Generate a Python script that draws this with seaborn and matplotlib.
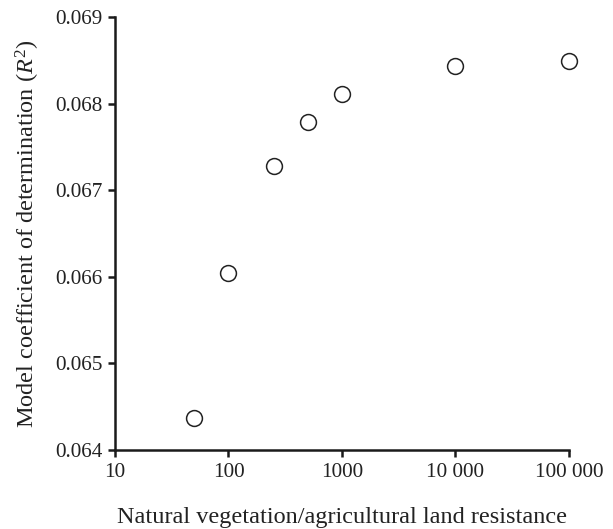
import matplotlib
matplotlib.use("Agg")
import matplotlib.pyplot as plt
import matplotlib.ticker as mticker
import seaborn as sns
import pandas as pd

resistance = [50, 100, 250, 500, 1000, 10000, 100000]
r2 = [0.06437, 0.06604, 0.06728, 0.06779, 0.06811, 0.06843, 0.06849]
x_ticks = [10, 100, 1000, 10000, 100000]
x_tick_labels = ["10", "100", "1000", "10 000", "100 000"]
y_ticks = [0.064, 0.065, 0.066, 0.067, 0.068, 0.069]

sns.set_style("ticks")
plt.rcParams["font.family"] = ["Liberation Serif", "DejaVu Serif"]
plt.rcParams["mathtext.fontset"] = "custom"
plt.rcParams["mathtext.rm"] = "Liberation Serif"
plt.rcParams["mathtext.it"] = "Liberation Serif:italic"

df = pd.DataFrame({"resistance": resistance, "r2": r2})

fig = plt.figure(figsize=(6.13, 5.29), dpi=100)
ax = fig.add_axes([0.1876, 0.1493, 0.7406, 0.8186])
sns.scatterplot(data=df, x="resistance", y="r2", ax=ax, marker="o",
                s=130, facecolor="white", edgecolor="#222222", linewidth=1.1,
                zorder=3, clip_on=False)
ax.set_xscale("log")
ax.set_xlim(10, 100000)
ax.set_ylim(0.064, 0.069)
ax.xaxis.set_major_locator(mticker.FixedLocator(x_ticks))
ax.xaxis.set_major_formatter(mticker.FixedFormatter(x_tick_labels))
ax.xaxis.set_minor_locator(mticker.NullLocator())
ax.set_yticks(y_ticks)
ax.set_yticklabels([f"{v:.3f}" for v in y_ticks])

for s in ["top", "right"]:
    ax.spines[s].set_visible(False)
for s in ["left", "bottom"]:
    ax.spines[s].set_linewidth(1.8)
    ax.spines[s].set_color("#1a1a1a")
ax.tick_params(axis="both", direction="out", length=5, width=1.8,
               color="#1a1a1a", labelsize=15.3, labelcolor="#222222", pad=4)

ax.set_xlabel("Natural vegetation/agricultural land resistance", fontsize=17.5,
              color="#222222", labelpad=18)
ax.set_ylabel("Model coefficient of determination ($R^2$)", fontsize=17.5,
              color="#222222", labelpad=9)

fig.savefig("out.png", dpi=100)
